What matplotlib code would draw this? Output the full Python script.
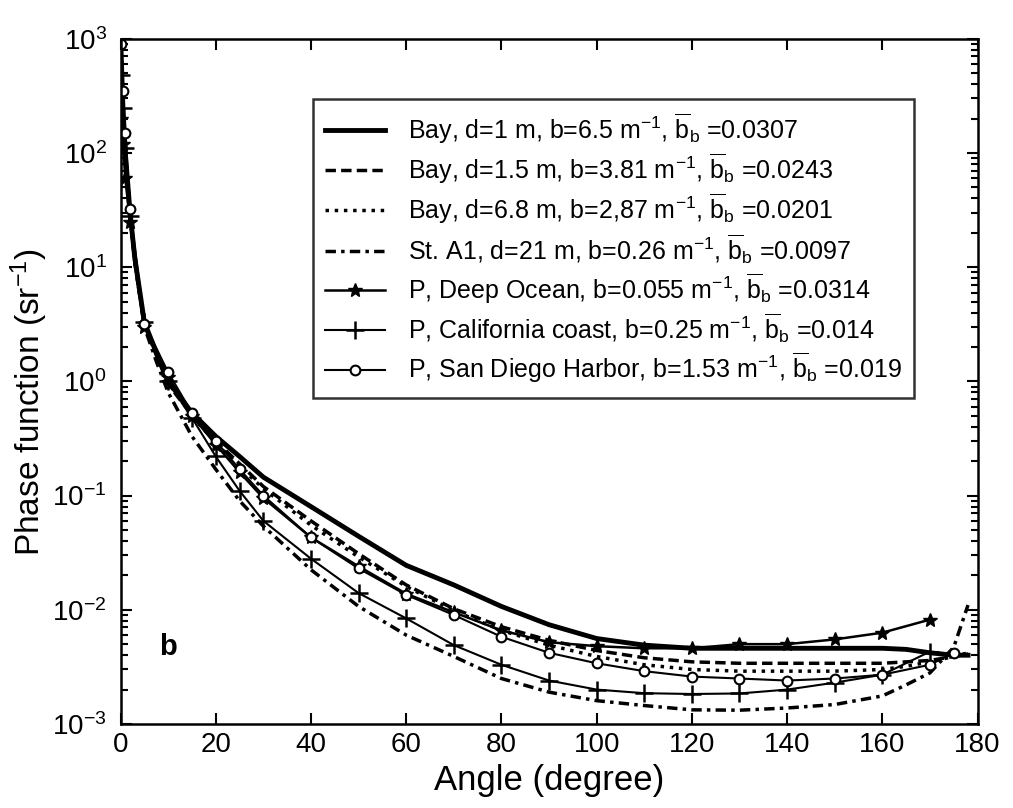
import matplotlib
matplotlib.use("Agg")
import matplotlib.pyplot as plt

plt.rcParams['font.family'] = ['Liberation Sans', 'DejaVu Sans']
plt.rcParams['mathtext.default'] = 'regular'

# measured (Bay / St. A1) curves
bay_angle = [0.1, 0.5, 1, 2, 3, 5, 7.5, 10, 15, 20, 25, 30, 40, 50, 60, 70, 80, 90,
             100, 110, 120, 130, 140, 150, 160, 165, 170, 175, 178]
bay_1m = [800, 250, 100, 30, 12, 3.3, 1.8, 1.0, 0.53, 0.33, 0.22, 0.145, 0.08, 0.044, 0.0245,
          0.0165, 0.0107, 0.0074, 0.0056, 0.0049, 0.0046, 0.0046, 0.0046, 0.0046, 0.0046,
          0.0045, 0.0042, 0.0040, 0.0040]
bay_15m = [700, 220, 90, 28, 11, 3.1, 1.7, 0.95, 0.5, 0.3, 0.19, 0.12, 0.06, 0.031, 0.0165,
           0.0102, 0.0071, 0.0054, 0.0044, 0.0038, 0.0035, 0.0034, 0.0034, 0.0034, 0.0034,
           0.0035, 0.0036, 0.0039, 0.0041]
bay_68m = [750, 230, 95, 29, 11.5, 3.2, 1.75, 0.97, 0.5, 0.29, 0.18, 0.115, 0.055, 0.029, 0.016,
           0.0098, 0.0066, 0.0049, 0.0039, 0.0033, 0.0030, 0.0029, 0.0029, 0.0029, 0.0030,
           0.0032, 0.0035, 0.0039, 0.0042]
sta1_21m = [900, 300, 110, 30, 11, 3.0, 1.5, 0.8, 0.33, 0.17, 0.09, 0.054, 0.0224, 0.0107, 0.006,
            0.0039, 0.0025, 0.0019, 0.0016, 0.00145, 0.00133, 0.00132, 0.00138, 0.00148,
            0.00176, 0.0022, 0.0028, 0.0047, 0.011]

# Petzold curves
p_angle = [0.1, 0.5, 1, 2, 5, 10, 15, 20, 25, 30, 40, 50, 60, 70, 80, 90, 100, 110, 120,
           130, 140, 150, 160, 170, 175]
deep_ocean = [200, 120, 60, 25, 3.0, 1.1, 0.5, 0.28, 0.16, 0.095, 0.043, 0.024, 0.0138, 0.0095,
              0.0066, 0.0052, 0.0048, 0.0046, 0.0046, 0.0050, 0.0050, 0.0055, 0.0063, 0.0082]
california = [480, 250, 110, 28, 3.3, 1.0, 0.48, 0.22, 0.11, 0.06, 0.028, 0.014, 0.0084, 0.0049,
              0.0033, 0.0024, 0.0020, 0.00186, 0.00183, 0.00185, 0.0020, 0.0023, 0.0027, 0.0043]
san_diego = [900, 350, 150, 32, 3.2, 1.2, 0.53, 0.3, 0.17, 0.1, 0.043, 0.023, 0.0135, 0.009,
             0.0058, 0.0042, 0.0034, 0.0029, 0.0026, 0.0025, 0.0024, 0.0025, 0.0027, 0.0033, 0.0042]

bb = r'$\overline{b}_b$'
labels = [
    'Bay, d=1 m, b=6.5 m$^{-1}$, ' + bb + ' =0.0307',
    'Bay, d=1.5 m, b=3.81 m$^{-1}$, ' + bb + ' =0.0243',
    'Bay, d=6.8 m, b=2,87 m$^{-1}$, ' + bb + ' =0.0201',
    'St. A1, d=21 m, b=0.26 m$^{-1}$, ' + bb + ' =0.0097',
    'P, Deep Ocean, b=0.055 m$^{-1}$, ' + bb + ' =0.0314',
    'P, California coast, b=0.25 m$^{-1}$, ' + bb + ' =0.014',
    'P, San Diego Harbor, b=1.53 m$^{-1}$, ' + bb + ' =0.019',
]

fig = plt.figure(figsize=(10.13, 8.08), dpi=100)
ax = fig.add_axes([0.119, 0.104, 0.846, 0.848])

ax.plot(bay_angle, bay_1m, 'k-', lw=3.5, label=labels[0])
ax.plot(bay_angle, bay_15m, 'k--', lw=2.5, dashes=(3, 1.5), label=labels[1])
ax.plot(bay_angle, bay_68m, 'k:', lw=2.5, label=labels[2])
ax.plot(bay_angle, sta1_21m, 'k-.', lw=2.5, dashes=(3, 1.5, 1, 1.5), label=labels[3])
ax.plot(p_angle[:len(deep_ocean)], deep_ocean, 'k-', marker='*', ms=10, lw=1.8, label=labels[4])
ax.plot(p_angle[:len(california)], california, 'k-', marker='+', ms=13, mew=1.8, lw=1.5,
        label=labels[5])
ax.plot(p_angle, san_diego, 'k-', marker='o', ms=7, mfc='white', mew=1.5, lw=1.5, label=labels[6])

ax.set_yscale('log')
ax.set_xlim(0, 180)
ax.set_ylim(1e-3, 1e3)
ax.set_xticks(range(0, 181, 20))
ax.tick_params(which='both', direction='in', top=True, right=True, labelsize=20, width=1.5)
ax.tick_params(which='major', length=8)
ax.tick_params(which='minor', length=5)
ax.tick_params(axis='x', pad=6)
ax.tick_params(axis='y', pad=10)
for s in ax.spines.values():
    s.set_linewidth(1.8)

ax.set_xlabel('Angle (degree)', fontsize=25)
ax.set_ylabel('Phase function (sr$^{-1}$)', fontsize=24)
ax.xaxis.set_label_coords(0.5, -0.058)
ax.yaxis.set_label_coords(-0.082, 0.47)

ax.text(8, 0.004, 'b', fontsize=21, fontweight='bold')

leg = ax.legend(loc='upper right', bbox_to_anchor=(0.926, 0.912), fontsize=18,
                frameon=True, fancybox=False, edgecolor='black', handlelength=2.4,
                handletextpad=0.9, labelspacing=0.24, borderpad=0.5, borderaxespad=0)
leg.get_frame().set_linewidth(1.8)

fig.savefig('out.png', dpi=100)
